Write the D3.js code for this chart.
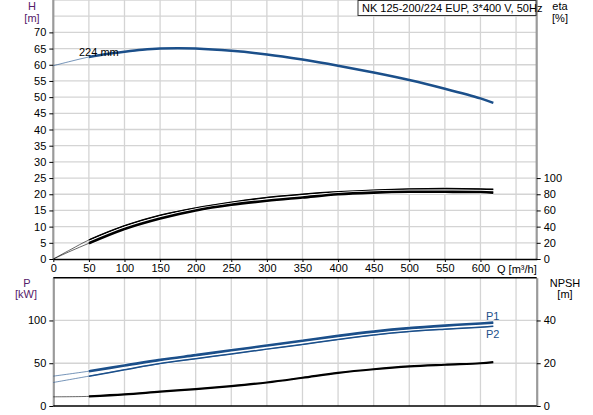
<!DOCTYPE html>
<html lang="en">
<head>
  <meta charset="UTF-8">
  <title>NK 125-200/224</title>
  <script src="https://d3js.org/d3.v7.min.js"></script>
  <style>
    * { margin: 0; padding: 0; box-sizing: border-box; }
    body { background: #fff; font-family: "Liberation Sans", Arial, sans-serif; }
    svg text { font-family: "Liberation Sans", Arial, sans-serif; }
  </style>
</head>
<body>
  <div id="chart"></div>
  <script>
    // flow values (m3/h)
    const qH = [0, 25, 50, 75, 100, 125, 150, 175, 200, 250, 300, 350, 400, 450, 500, 550, 600, 618];
    const head = [59.7, 61.1, 62.4, 63.3, 64.0, 64.6, 65.0, 65.1, 65.0, 64.3, 63.2, 61.6, 59.7, 57.6, 55.3, 52.6, 49.6, 48.2];

    const qEta = [0, 25, 50, 100, 150, 200, 250, 300, 350, 400, 450, 500, 550, 600, 618];
    const etaUpper = [0, 12, 23.5, 41, 54, 63, 70, 76, 80, 83, 85, 86.5, 87, 86.5, 86];
    const etaLower = [0, 10, 19.4, 37, 50, 60, 67, 72, 76, 80, 82, 83, 83, 82.7, 82];

    const qP = [0, 50, 100, 150, 200, 250, 300, 350, 400, 450, 500, 550, 600, 618];
    const p1 = [34.9, 40.7, 47.3, 53.9, 59.5, 65.1, 70.7, 76.3, 82.0, 87.0, 91.0, 94.0, 96.5, 97.5];
    const p2 = [27.5, 34.9, 42.3, 49.6, 55.3, 60.8, 66.5, 72.0, 77.8, 83.0, 87.0, 89.8, 92.2, 93.2];
    const npsh = [4.3, 4.5, 5.4, 6.7, 7.9, 9.3, 11.0, 13.2, 15.5, 17.2, 18.5, 19.3, 20.0, 20.5];

    const qTicks = [0, 50, 100, 150, 200, 250, 300, 350, 400, 450, 500, 550, 600];
    const qGrid = [50, 100, 150, 200, 250, 300, 350, 400, 450, 500, 550, 600, 650];
    const hTicks = [0, 5, 10, 15, 20, 25, 30, 35, 40, 45, 50, 55, 60, 65, 70];
    const hGrid = [5, 10, 15, 20, 25, 30, 35, 40, 45, 50, 55, 60, 65, 70, 75, 80];
    const etaTicks = [0, 20, 40, 60, 80, 100];
    const pTicks = [0, 50, 100];
    const pGrid = [50, 100];
    const npshTicks = [0, 20, 40];

    const W = 593, H = 415;
    const blue = "#1b4f8a", grid = "#d4d4d4", axisGrey = "#9a9a9a", labelCol = "#55206a";

    const svg = d3.select("#chart").append("svg")
      .attr("width", W).attr("height", H);

    const x = d3.scaleLinear().domain([0, 679]).range([53.3, 536.7]);
    const yH = d3.scaleLinear().domain([0, 80]).range([259, 0]);
    const yEta = d3.scaleLinear().domain([0, 320]).range([259, 0]);
    const yP = d3.scaleLinear().domain([0, 150]).range([406, 277.7]);
    const yN = d3.scaleLinear().domain([0, 60]).range([406, 277.7]);

    // ---- grids
    function drawGrid(yScale, yVals, y0, y1) {
      const g = svg.append("g");
      g.selectAll(".v").data(qGrid).enter().append("line")
        .attr("x1", d => x(d)).attr("x2", d => x(d))
        .attr("y1", y0).attr("y2", y1)
        .attr("stroke", grid).attr("stroke-width", 1.3);
      g.selectAll(".h").data(yVals).enter().append("line")
        .attr("x1", x(0)).attr("x2", x(679))
        .attr("y1", d => yScale(d)).attr("y2", d => yScale(d))
        .attr("stroke", grid).attr("stroke-width", 1.3);
    }
    drawGrid(yH, hGrid, 0, 259);
    drawGrid(yP, pGrid, 277.7, 406);

    // ---- axes
    function axis(gen, tx, ty) {
      const g = svg.append("g").attr("transform", `translate(${tx},${ty})`).call(gen);
      g.selectAll("text").style("font-size", "11px").attr("fill", "#000");
      g.selectAll(".tick line").attr("stroke", "#000");
      return g;
    }
    const ax1 = axis(d3.axisLeft(yH).tickValues(hTicks).tickSize(4).tickSizeOuter(0), 53.3, 0);
    const ax2 = axis(d3.axisRight(yEta).tickValues(etaTicks).tickSize(4).tickSizeOuter(0), 536.7, 0);
    const ax3 = axis(d3.axisBottom(x).tickValues(qTicks).tickSize(3).tickSizeOuter(0), 0, 259);
    const ax4 = axis(d3.axisLeft(yP).tickValues(pTicks).tickSize(4).tickSizeOuter(0), 53.3, 0);
    const ax5 = axis(d3.axisRight(yN).tickValues(npshTicks).tickSize(4).tickSizeOuter(0), 536.7, 0);
    [ax1, ax2, ax4, ax5].forEach(g => g.select(".domain").attr("stroke", axisGrey).attr("stroke-width", 2.2));
    ax1.select(".domain").attr("d", "M0,0V259");
    ax2.select(".domain").attr("d", "M0,0V259");
    ax3.select(".domain").attr("stroke", "#000").attr("stroke-width", 1.5);
    ax3.selectAll("text").attr("dy", "0.6em");

    // bottom panel frame
    svg.append("line").attr("x1", x(0)).attr("x2", x(679)).attr("y1", 277.7).attr("y2", 277.7)
      .attr("stroke", "#000").attr("stroke-width", 1.5);
    svg.append("line").attr("x1", x(0)).attr("x2", x(679)).attr("y1", 406).attr("y2", 406)
      .attr("stroke", "#000").attr("stroke-width", 1.5);

    // ---- curves (thin from 0, heavy from 50 m3/h)
    function curve(qs, vs, yScale, color, thick, halo) {
      const pts = qs.map((q, i) => [q, vs[i]]);
      const line = d3.line().x(d => x(d[0])).y(d => yScale(d[1])).curve(d3.curveCatmullRom);
      const tail = pts.filter(d => d[0] >= 50);
      if (halo) {
        svg.append("path").attr("d", line(tail)).attr("fill", "none")
          .attr("stroke", "#fff").attr("stroke-width", thick + 1.6);
      }
      svg.append("path").attr("d", line(pts)).attr("fill", "none")
        .attr("stroke", color).attr("stroke-width", 1).attr("opacity", 0.6);
      svg.append("path").attr("d", line(tail)).attr("fill", "none")
        .attr("stroke", color).attr("stroke-width", thick);
    }
    curve(qH, head, yH, blue, 2.5, false);
    curve(qEta, etaUpper, yEta, "#000", 1.6, true);
    curve(qEta, etaLower, yEta, "#000", 2.6, true);
    curve(qP, p1, yP, blue, 2.6, true);
    curve(qP, p2, yP, blue, 1.5, true);
    curve(qP, npsh, yN, "#000", 2.2, false);

    // ---- texts
    function txt(s, tx, ty, opts = {}) {
      svg.append("text").attr("x", tx).attr("y", ty)
        .attr("text-anchor", opts.anchor || "start")
        .attr("fill", opts.fill || "#000")
        .style("font-size", (opts.size || 11) + "px")
        .text(s);
    }
    txt("H", 32, 10, { anchor: "middle", fill: labelCol });
    txt("[m]", 32, 22, { anchor: "middle", fill: labelCol });
    txt("eta", 560, 10, { anchor: "middle", fill: "#000" });
    txt("[%]", 560, 22, { anchor: "middle", fill: "#000" });
    txt("P", 27, 287, { anchor: "middle", fill: labelCol });
    txt("[kW]", 26, 298, { anchor: "middle", fill: labelCol });
    txt("NPSH", 565, 287, { anchor: "middle", fill: "#000" });
    txt("[m]", 565, 298, { anchor: "middle", fill: "#000" });
    txt("Q [m³/h]", 497, 273);
    txt("224 mm", 79, 56);
    txt("P1", 486, 320, { fill: blue });
    txt("P2", 486, 338, { fill: blue });

    // title box
    svg.append("rect").attr("x", 358).attr("y", 0.5).attr("width", 178).attr("height", 15)
      .attr("fill", "#fff").attr("stroke", "#333").attr("stroke-width", 1);
    txt("NK 125-200/224 EUP, 3*400 V, 50Hz", 362, 12);
  </script>
</body>
</html>
